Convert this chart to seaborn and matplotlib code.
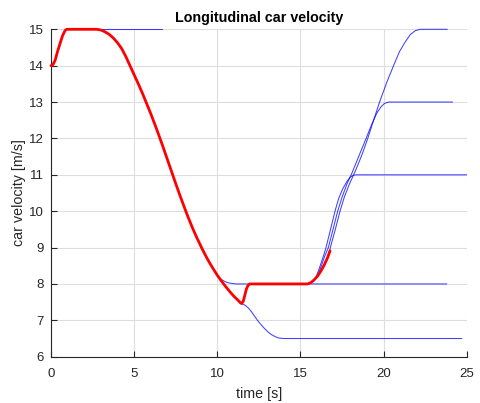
import matplotlib
matplotlib.use("Agg")
import matplotlib.pyplot as plt
import seaborn as sns
import pandas as pd

# ---- data ----
# actual (red) trajectory
red_t = [0, 0.12, 0.25, 0.4, 0.55, 0.7, 0.85, 0.95, 1.5, 2.0, 2.5, 2.75, 3.0, 3.25, 3.5, 3.75, 4.0,
         4.25, 4.5, 4.75, 5.0, 5.25, 5.5, 5.75, 6.0, 6.25, 6.5, 6.75, 7.0, 7.25, 7.5, 7.75, 8.0,
         8.25, 8.5, 8.75, 9.0, 9.25, 9.5, 9.75, 10.0, 10.25, 10.5, 10.75, 11.0, 11.25, 11.4,
         11.47, 11.56, 11.65, 11.75, 11.85, 11.95, 12.05, 13.0, 14.0, 15.0, 15.44, 15.64,
         15.84, 16.04, 16.24, 16.44, 16.64, 16.78]
red_v = [14.0, 14.03, 14.15, 14.4, 14.62, 14.83, 14.97, 15.0, 15.0, 15.0, 15.0, 15.0, 14.98, 14.93,
         14.86, 14.76, 14.63, 14.47, 14.25, 14.0, 13.75, 13.5, 13.24, 12.96, 12.68, 12.38, 12.07,
         11.75, 11.42, 11.09, 10.76, 10.44, 10.13, 9.83, 9.55, 9.29, 9.05, 8.82, 8.61, 8.42, 8.24,
         8.08, 7.93, 7.79, 7.66, 7.55, 7.48, 7.46, 7.52, 7.68, 7.86, 7.96, 8.0, 8.0, 8.0, 8.0,
         8.0, 8.0, 8.04, 8.12, 8.22, 8.36, 8.53, 8.73, 8.91]

# predicted (blue) trajectories
pred15a_t = [0.95, 6.65]
pred15a_v = [15.0, 15.0]

pred8_t = [9.5, 9.75, 10.0, 10.2, 10.4, 10.6, 10.8, 11.0, 11.2, 23.8]
pred8_v = [8.61, 8.42, 8.24, 8.14, 8.08, 8.04, 8.02, 8.005, 8.0, 8.0]

pred65_t = [11.47, 11.65, 11.85, 12.05, 12.25, 12.45, 12.65, 12.85, 13.05, 13.25, 13.45, 13.65,
            13.85, 14.0, 24.7]
pred65_v = [7.46, 7.42, 7.35, 7.24, 7.11, 6.98, 6.87, 6.77, 6.68, 6.61, 6.56, 6.52, 6.505, 6.5, 6.5]

pred11_t = [12.0, 15.4, 15.6, 15.8, 15.95, 16.15, 16.35, 16.54, 16.8, 17.08, 17.3, 17.55, 17.8,
            18.0, 18.2, 18.4, 25.0]
pred11_v = [8.0, 8.0, 8.03, 8.1, 8.2, 8.45, 8.72, 9.0, 9.48, 10.0, 10.35, 10.62, 10.82,
            10.94, 10.99, 11.0, 11.0]

pred13_t = [12.0, 15.4, 15.6, 15.8, 16.0, 16.2, 16.45, 16.68, 16.95, 17.24, 17.5, 17.8, 18.1,
            18.5, 18.95, 19.3, 19.6, 19.85, 20.05, 20.3, 24.15]
pred13_v = [8.0, 8.0, 8.02, 8.08, 8.2, 8.42, 8.75, 9.0, 9.48, 10.0, 10.38, 10.75, 11.05,
            11.5, 12.0, 12.4, 12.7, 12.87, 12.96, 13.0, 13.0]

pred15b_t = [12.0, 15.44, 15.64, 15.84, 16.04, 16.24, 16.44, 16.64, 16.8, 17.1, 17.38, 17.65,
             17.95, 18.3, 18.7, 19.05, 19.4, 19.76, 20.2, 20.6, 20.95, 21.3, 21.6, 21.9, 22.2, 23.83]
pred15b_v = [8.0, 8.0, 8.04, 8.12, 8.22, 8.36, 8.53, 8.75, 9.0, 9.5, 10.0, 10.4, 10.75,
             11.1, 11.55, 12.0, 12.5, 13.0, 13.55, 14.0, 14.38, 14.65, 14.85, 14.96, 15.0, 15.0]

x_ticks = [0, 5, 10, 15, 20, 25]
y_ticks = [6, 7, 8, 9, 10, 11, 12, 13, 14, 15]

# ---- styling ----
sns.set_theme(style="white")
plt.rcParams['font.family'] = ['Liberation Sans', 'DejaVu Sans']
ink = '#262626'

fig = plt.figure(figsize=(4.81, 4.03), dpi=100)
ax = fig.add_axes([51 / 481, 1 - 356.7 / 403, (466.7 - 51) / 481, (356.7 - 29.3) / 403])

blue_sets = [(pred15a_t, pred15a_v), (pred8_t, pred8_v), (pred65_t, pred65_v),
             (pred11_t, pred11_v), (pred13_t, pred13_v), (pred15b_t, pred15b_v)]
for tt, vv in blue_sets:
    df = pd.DataFrame({'t': tt, 'v': vv})
    sns.lineplot(data=df, x='t', y='v', ax=ax, color='blue', linewidth=0.75, alpha=0.75,
                 estimator=None, sort=False, zorder=3)

df_red = pd.DataFrame({'t': red_t, 'v': red_v})
sns.lineplot(data=df_red, x='t', y='v', ax=ax, color='red', linewidth=2.0,
             estimator=None, sort=False, zorder=4)

for ln in ax.lines:
    ln.set_clip_on(False)
    ln.set_solid_joinstyle('round')

ax.set_xlim(0, 25)
ax.set_ylim(6, 15)
ax.set_xticks(x_ticks)
ax.set_yticks(y_ticks)
ax.grid(True, color='#dedede', linewidth=0.8)
ax.set_axisbelow(True)

for s in ['top', 'right']:
    ax.spines[s].set_visible(False)
for s in ['left', 'bottom']:
    ax.spines[s].set_color(ink)
    ax.spines[s].set_linewidth(0.8)

ax.tick_params(axis='both', direction='in', length=4, width=0.8, color=ink,
               labelcolor=ink, labelsize=9.5, left=True, bottom=True)
ax.tick_params(axis='x', pad=8)
ax.tick_params(axis='y', pad=5)

ax.set_xlabel('time [s]', fontsize=10.3, color=ink, labelpad=5)
ax.set_ylabel('car velocity [m/s]', fontsize=10.3, color=ink, labelpad=2)
ax.set_title('Longitudinal car velocity', fontsize=10.3, fontweight='bold', color='black', pad=5)

fig.savefig('out.png', dpi=100)
